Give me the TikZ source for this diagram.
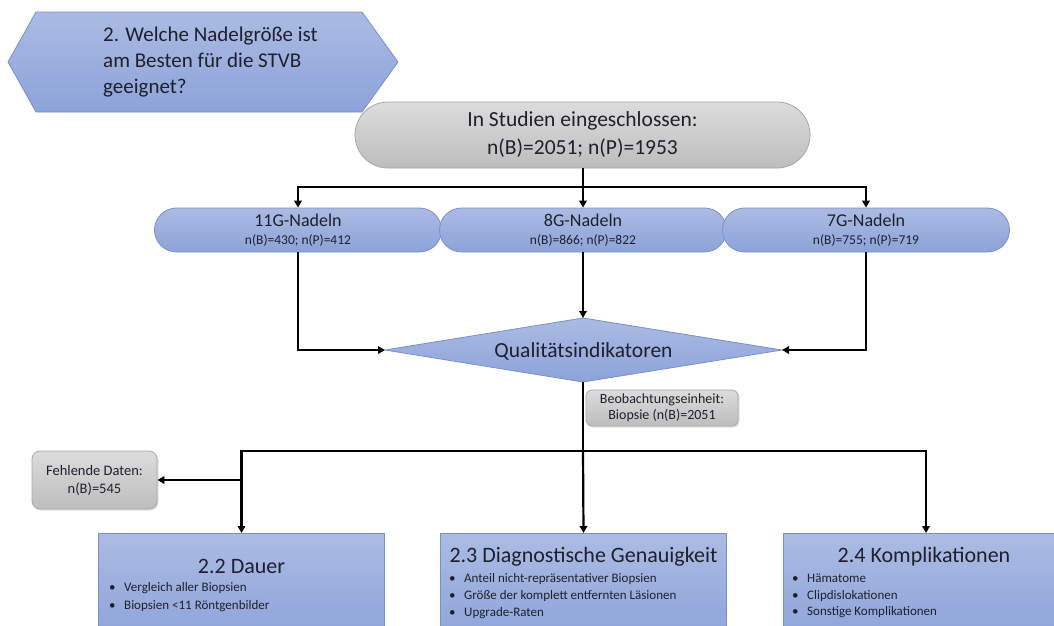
\documentclass[tikz,border=0pt]{standalone}
\usepackage{fontspec}
\setmainfont{Carlito}
\usetikzlibrary{arrows.meta,shadows}

\definecolor{bluetop}{HTML}{ABBBE3}
\definecolor{bluebot}{HTML}{8CA3D9}
\definecolor{blueedge}{HTML}{7890CC}
\definecolor{graytop}{HTML}{DCDCDC}
\definecolor{graybot}{HTML}{BDBDBD}
\definecolor{grayedge}{HTML}{A8A8A8}
\definecolor{ink}{HTML}{20202C}

\tikzset{
  blueshape/.style={draw=blueedge, line width=0.8pt, top color=bluetop, bottom color=bluebot, text=ink},
  grayshape/.style={draw=grayedge, line width=0.8pt, top color=graytop, bottom color=graybot, text=ink},
  pill/.style={blueshape, minimum width=287pt, minimum height=44pt, rounded corners=22pt, inner sep=0pt,
    align=center, font=\fontsize{18}{18}\selectfont},
  infobox/.style={grayshape, inner sep=0pt, align=center,
    drop shadow={opacity=0.25, shadow xshift=1.5pt, shadow yshift=-1.5pt}},
  topic/.style={blueshape, minimum width=286pt, minimum height=110pt, anchor=north, inner sep=0pt},
  topictitle/.style={text=ink, inner sep=0pt, font=\fontsize{22}{24}\selectfont},
  topiclist/.style={text=ink, inner sep=0pt, anchor=north west, align=left},
  link/.style={line width=2.2pt, black},
  arr/.style={link, -{Triangle[length=7pt,width=7.5pt]}},
}
\newcommand{\bulletitem}[1]{\makebox[15pt][l]{•}#1}
\newcommand{\pilltext}[2]{#1\\{\fontsize{13.5}{16}\selectfont #2}}

\begin{document}
\begin{tikzpicture}[x=1pt,y=-1pt]
\useasboundingbox (0,0) rectangle (1054,625);
\fill[white] (0,0) rectangle (1054,625);
\clip (0,0) rectangle (1054,625);

% research question banner
\draw[blueshape] (8,62) -- (36,12) -- (362,12) -- (398,62) -- (362,112) -- (36,112) -- cycle;
\node[text=ink, align=left, anchor=west, inner sep=0pt, font=\fontsize{21}{26}\selectfont]
  (frage) at (103,62) {2. Welche Nadelgröße ist\\am Besten für die STVB\\geeignet?};

% included studies
\node[grayshape, minimum width=455pt, minimum height=66pt, rounded corners=33pt, inner sep=0pt,
  align=center, font=\fontsize{21.5}{28}\selectfont]
  (studien) at (582.5,135) {In Studien eingeschlossen:\\n(B)=2051; n(P)=1953};

% needle groups
\node[pill] (n11) at (298,230) {\pilltext{11G-Nadeln}{n(B)=430; n(P)=412}};
\node[pill] (n8)  at (583,230) {\pilltext{8G-Nadeln}{n(B)=866; n(P)=822}};
\node[pill] (n7)  at (866,230) {\pilltext{7G-Nadeln}{n(B)=755; n(P)=719}};

% quality indicators
\coordinate (qW) at (385,350);
\coordinate (qN) at (583,318);
\coordinate (qE) at (782,350);
\coordinate (qS) at (583,382);
\draw[blueshape] (qW) -- (qN) -- (qE) -- (qS) -- cycle;
\node[text=ink, inner sep=0pt, font=\fontsize{21.5}{24}\selectfont] (quali) at (583.5,351) {Qualitätsindikatoren};

% unit of observation
\node[infobox, rounded corners=6pt, minimum width=152pt, minimum height=36pt, font=\fontsize{14}{16}\selectfont]
  (beob) at (662,408) {Beobachtungseinheit:\\Biopsie (n(B)=2051};

% missing data
\node[infobox, rounded corners=8pt, minimum width=125pt, minimum height=58pt, font=\fontsize{14.5}{18}\selectfont]
  (fehl) at (94.5,480) {Fehlende Daten:\\n(B)=545};

% outcome topics
\node[topic] (dauer) at (241.5,533) {};
\node[topictitle] (dauerT) at (241.5,566) {2.2 Dauer};
\node[topiclist, font=\fontsize{13}{18}\selectfont] (dauerL) at (109,582)
  {\bulletitem{Vergleich aller Biopsien}\\\bulletitem{Biopsien <11 Röntgenbilder}};

\node[topic] (genau) at (583.5,533) {};
\node[topictitle] (genauT) at (583.5,557) {2.3 Diagnostische Genauigkeit};
\node[topiclist, font=\fontsize{13}{16.8}\selectfont] (genauL) at (449,573.5)
  {\bulletitem{Anteil nicht-repräsentativer Biopsien}\\\bulletitem{Größe der komplett entfernten Läsionen}\\\bulletitem{Upgrade-Raten}};

\node[topic] (kompl) at (926,533) {};
\node[topictitle] (komplT) at (924,557) {2.4 Komplikationen};
\node[topiclist, font=\fontsize{13}{16.8}\selectfont] (komplL) at (792,573.5)
  {\bulletitem{Hämatome}\\\bulletitem{Clipdislokationen}\\\bulletitem{Sonstige Komplikationen}};

% connectors: studies -> needle groups
\coordinate (sj) at (583,187);
\draw[link] (studien.south -| sj) -- (sj);
\draw[arr] (sj) -| (n11.north);
\draw[arr] (sj) -- (n8.north);
\draw[arr] (sj) -| (n7.north);

% needle groups -> quality indicators
\draw[arr] (n11.south) |- (qW);
\draw[arr] (n8.south) -- (qN);
\draw[arr] (n7.south) |- (qE);

% quality indicators -> topics
\coordinate (bj) at (583,451);
\draw[link] (qS) -- (bj);
\draw[arr] (bj) -| (dauer.north);
\draw[arr] (bj) -- (genau.north);
\draw[arr] (bj) -| (kompl.north);
\draw[arr] (dauer.north |- fehl.east) -- (fehl.east);
\end{tikzpicture}
\end{document}
